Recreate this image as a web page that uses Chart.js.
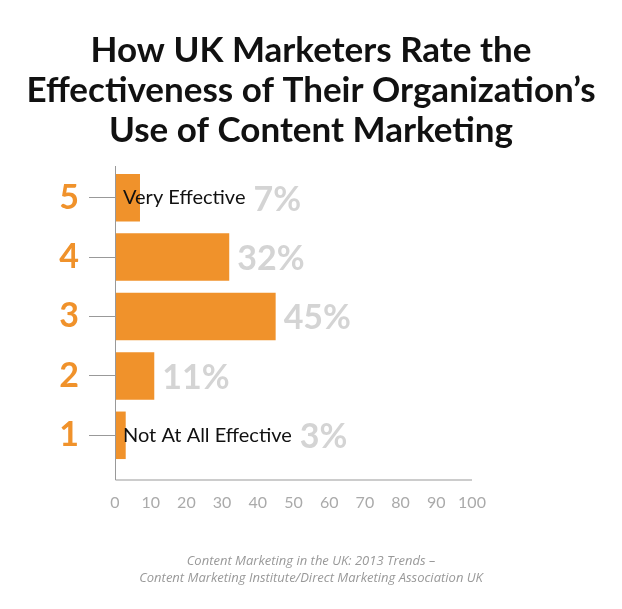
<!DOCTYPE html><html><head><style>html,body{margin:0;background:#fff}#w{width:622px;height:609px}</style>
<script src="https://cdn.jsdelivr.net/npm/chart.js@4/dist/chart.umd.min.js"></script></head><body><div id="w"><canvas id="c"></canvas></div>
<script>
const categories=['5','4','3','2','1'];
const values=[7,32,45,11,3];
const innerLabels=['Very Effective','','','','Not At All Effective'];
const titleLines=['How UK Marketers Rate the','Effectiveness of Their Organization\u2019s','Use of Content Marketing'];
const sourceLines=['Content Marketing in the UK: 2013 Trends \u2013','Content Marketing Institute/Direct Marketing Association UK'];
const deco={id:'deco',afterDraw(ch){const c=ch.ctx,x=ch.scales.x,y=ch.scales.y,a=ch.chartArea;c.save();
c.strokeStyle='#999';c.lineWidth=1;c.beginPath();c.moveTo(a.left+0.5,a.top-2);c.lineTo(a.left+0.5,a.bottom+15);c.lineTo(a.right,a.bottom+15);c.stroke();
c.textAlign='center';c.textBaseline='alphabetic';c.fillStyle='#111';c.font='bold 35px Lato';
titleLines.forEach((t,i)=>c.fillText(t,311,62+i*40));
c.font='italic 13px "Open Sans"';c.fillStyle='#999';sourceLines.forEach((t,i)=>c.fillText(t,311,565+i*17));
c.textAlign='left';c.textBaseline='middle';
ch.getDatasetMeta(0).data.forEach((b,i)=>{let px=b.x+8;
if(innerLabels[i]){c.font='20px Lato';c.fillStyle='#111';const tx=x.getPixelForValue(0)+8;c.fillText(innerLabels[i],tx,b.y);px=tx+c.measureText(innerLabels[i]).width+8;}
c.font='bold 34px Lato';c.fillStyle='#d4d4d4';c.fillText(values[i]+'%',px,b.y+2);});
c.restore();}};
new Chart(document.getElementById('c'),{type:'bar',data:{labels:categories,datasets:[{data:values,backgroundColor:'#f0922b',barPercentage:0.8,categoryPercentage:1}]},
options:{indexAxis:'y',responsive:true,maintainAspectRatio:false,animation:false,layout:{padding:{top:168,right:150,bottom:89,left:0}},
plugins:{legend:{display:false},tooltip:{enabled:false}},
scales:{x:{min:0,max:100,afterFit(s){s.height=55},ticks:{stepSize:10,color:'#aaa',font:{size:16,family:'Lato'},padding:28},grid:{display:false,drawTicks:false},border:{display:false}},
y:{afterFit(s){s.width=115},ticks:{color:'#f0922b',font:{size:34,weight:'bold',family:'Lato'},padding:10},grid:{drawOnChartArea:false,tickLength:26,color:'#999',offset:false},border:{display:false}}}},
plugins:[deco]});
</script></body></html>
